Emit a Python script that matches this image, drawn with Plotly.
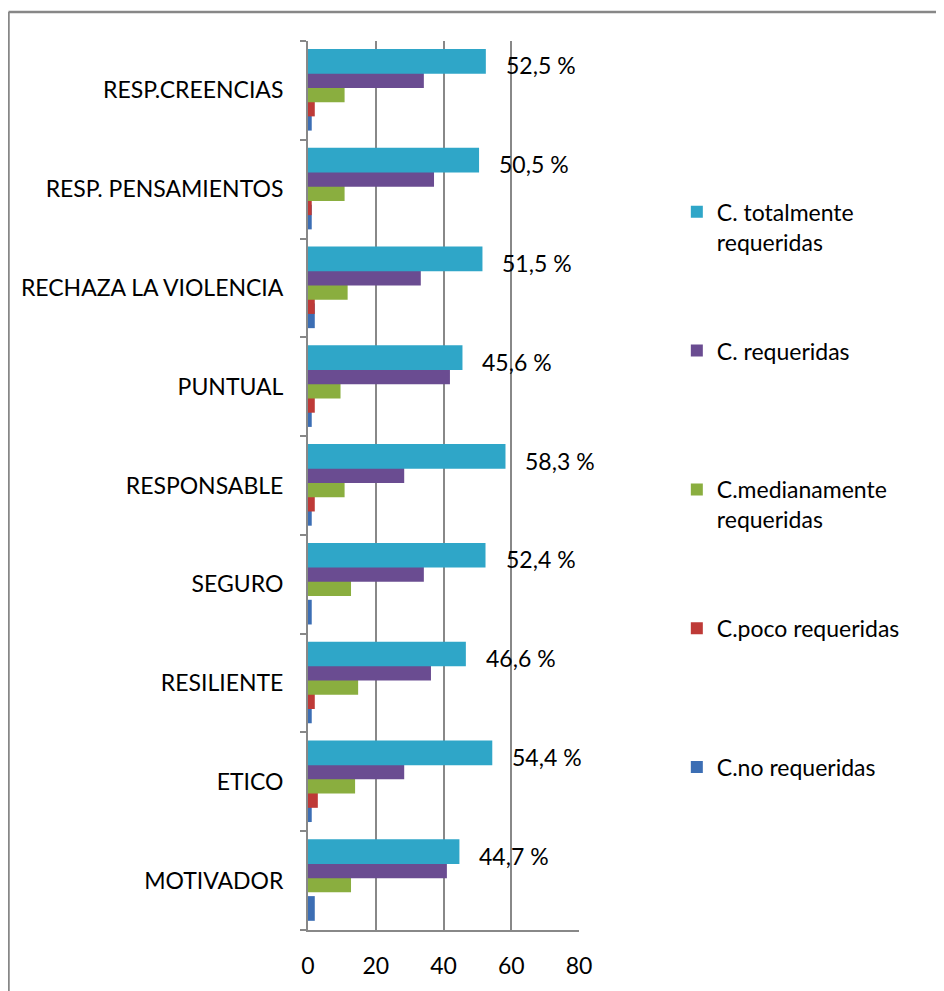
import plotly.graph_objects as go

# categories bottom -> top (plotly draws the first category at the bottom)
categories = ['MOTIVADOR', 'ETICO', 'RESILIENTE', 'SEGURO', 'RESPONSABLE',
              'PUNTUAL', 'RECHAZA LA VIOLENCIA', 'RESP. PENSAMIENTOS', 'RESP.CREENCIAS']

no_requeridas = [2.0, 1.1, 1.1, 1.1, 1.1, 1.1, 2.0, 1.1, 1.1]
poco_requeridas = [0.0, 2.9, 2.0, 0.0, 2.0, 2.0, 2.0, 1.1, 2.0]
medianamente_requeridas = [12.7, 13.9, 14.8, 12.7, 10.8, 9.6, 11.7, 10.8, 10.8]
requeridas = [41.0, 28.4, 36.3, 34.2, 28.4, 41.9, 33.3, 37.2, 34.2]
totalmente_requeridas = [44.7, 54.4, 46.6, 52.4, 58.3, 45.6, 51.5, 50.5, 52.5]

series = [
    ('C.no requeridas<br> ', no_requeridas, '#3C6EB4'),
    ('C.poco requeridas<br> ', poco_requeridas, '#BE3A37'),
    ('C.medianamente<br>requeridas', medianamente_requeridas, '#8AAE3F'),
    ('C. requeridas<br> ', requeridas, '#6A4C91'),
    ('C. totalmente<br>requeridas', totalmente_requeridas, '#2FA6C8'),
]

font_family = 'Lato, Calibri, Arial, sans-serif'
bar_width = 0.25
step = 0.144

# plot area in figure pixels
L, R, T, B = 300, 571, 33, 922
pw, ph = R - L, B - T

fig = go.Figure()
for i, (name, vals, color) in enumerate(series):
    fig.add_trace(go.Bar(
        y=categories,
        x=vals,
        orientation='h',
        name=name,
        legendgroup=str(i),
        legendrank=len(series) - i,
        marker=dict(color=color, line=dict(width=0)),
        width=bar_width,
        offset=-0.407 + i * step,
    ))

# percentage labels next to the "totalmente" bars
for cat, v in zip(categories, totalmente_requeridas):
    fig.add_annotation(
        x=v, y=cat,
        text=f"{v:.1f} %".replace('.', ','),
        showarrow=False,
        xanchor='left',
        xshift=18,
        yshift=25,
        font=dict(family=font_family, size=23, color='black'),
    )

# outer chart frame (only top and left edges visible)
top_y = 1 + (T - 4) / ph
left_x = (0.5 - L) / pw
fig.add_shape(type='line', xref='paper', yref='paper',
              x0=left_x, x1=(950 - L) / pw, y0=top_y, y1=top_y,
              line=dict(color='#878787', width=2.5))
fig.add_shape(type='line', xref='paper', yref='paper',
              x0=left_x, x1=left_x, y0=top_y, y1=-(1000 - B) / ph,
              line=dict(color='#878787', width=2.5))

fig.update_layout(
    width=944,
    height=991,
    margin=dict(l=L, r=944 - R, t=T, b=991 - B),
    barmode='overlay',
    plot_bgcolor='white',
    paper_bgcolor='white',
    font=dict(family=font_family, size=23, color='black'),
    showlegend=True,
    legend=dict(
        x=1.361, xanchor='left',
        y=0.832, yanchor='top',
        traceorder='grouped',
        tracegroupgap=76,
        valign='top',
        font=dict(family=font_family, size=23, color='black'),
        bgcolor='rgba(0,0,0,0)',
    ),
    xaxis=dict(
        range=[0, 80],
        tickvals=[0, 20, 40, 60, 80],
        showgrid=True,
        gridcolor='#888888',
        gridwidth=2,
        showline=True,
        linecolor='#888888',
        linewidth=2,
        zeroline=False,
        ticks='',
        ticklabelstandoff=14,
        fixedrange=True,
    ),
    yaxis=dict(
        showline=True,
        linecolor='#888888',
        linewidth=2,
        showgrid=False,
        ticks='outside',
        tickson='boundaries',
        ticklen=6,
        tickcolor='#888888',
        tickwidth=2,
        ticklabelstandoff=18,
        fixedrange=True,
    ),
)

fig.write_html("out.html")
